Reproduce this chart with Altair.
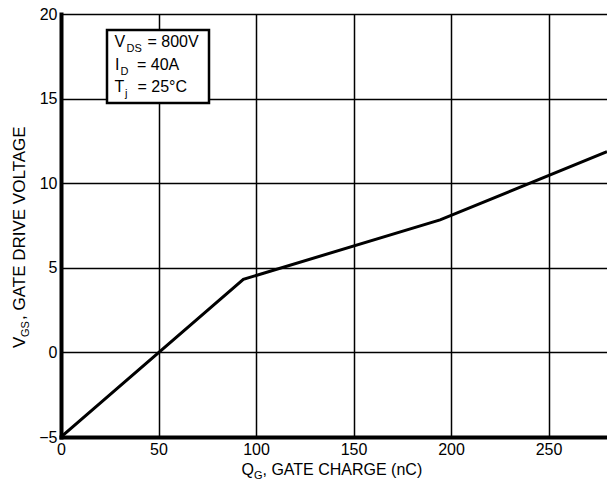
import altair as alt
import pandas as pd

# data
qg = [0, 93.5, 194.4, 280]
vgs = [-5, 4.32, 7.83, 11.86]
x_ticks = [0, 50, 100, 150, 200, 250]
y_ticks = [-5, 0, 5, 10, 15, 20]

FONT = "Liberation Sans"
W, H = 546, 423
L, T = 61, 14

df = pd.DataFrame({"qg": qg, "vgs": vgs})
one = pd.DataFrame({"a": [0]})

line = alt.Chart(df).mark_line(color="black", strokeWidth=3, clip=True).encode(
    x=alt.X("qg:Q", scale=alt.Scale(domain=[0, 280], nice=False),
            axis=alt.Axis(values=x_ticks, title=None, labelFlush=False, labelPadding=4)),
    y=alt.Y("vgs:Q", scale=alt.Scale(domain=[-5, 20], nice=False),
            axis=alt.Axis(values=y_ticks, title=None, labelFlush=False, labelPadding=4)),
)


def txt(s, x, y, size, angle=0):
    return alt.Chart(one).mark_text(
        text=s, font=FONT, fontSize=size, align="left", baseline="alphabetic",
        angle=angle, color="black"
    ).encode(x=alt.value(x - L), y=alt.value(y - T))


box = alt.Chart(one).mark_rect(fill="white", stroke="black", strokeWidth=2.5).encode(
    x=alt.value(107 - L), x2=alt.value(209 - L),
    y=alt.value(30 - T), y2=alt.value(103 - T),
)

layers = [
    line,
    box,
    # legend text
    txt("V", 114.5, 47, 16), txt("DS", 126.5, 52, 11), txt("= 800V", 147.5, 47, 16),
    txt("I", 115, 70, 16), txt("D", 120.5, 75, 11), txt("= 40A", 137, 70, 16),
    txt("T", 114.5, 92, 16), txt("j", 125, 97, 11), txt("= 25°C", 137.5, 92, 16),
    # x title
    txt("Q", 241.5, 475, 16), txt("G", 254, 479, 11), txt(", GATE CHARGE (nC)", 262.5, 475, 16),
    # y title
    txt("V", 25, 348, 17, 270), txt("GS", 29, 337, 11, 270), txt(", GATE DRIVE VOLTAGE", 25, 320, 17, 270),
]

chart = alt.layer(*layers).properties(
    width=W, height=H,
    autosize=alt.AutoSizeParams(type="none"),
    padding={"left": L, "top": T, "right": 0, "bottom": 483 - T - H},
    background="white",
).configure_view(strokeWidth=0).configure_axis(
    labelFont=FONT, labelFontSize=16, labelColor="black",
    ticks=False, domainColor="black", domainWidth=4, domainCap="square",
    grid=True, gridColor="black", gridWidth=1.5, gridOpacity=1,
)

chart.save("out.html", embed_options={"renderer": "svg", "actions": False})
